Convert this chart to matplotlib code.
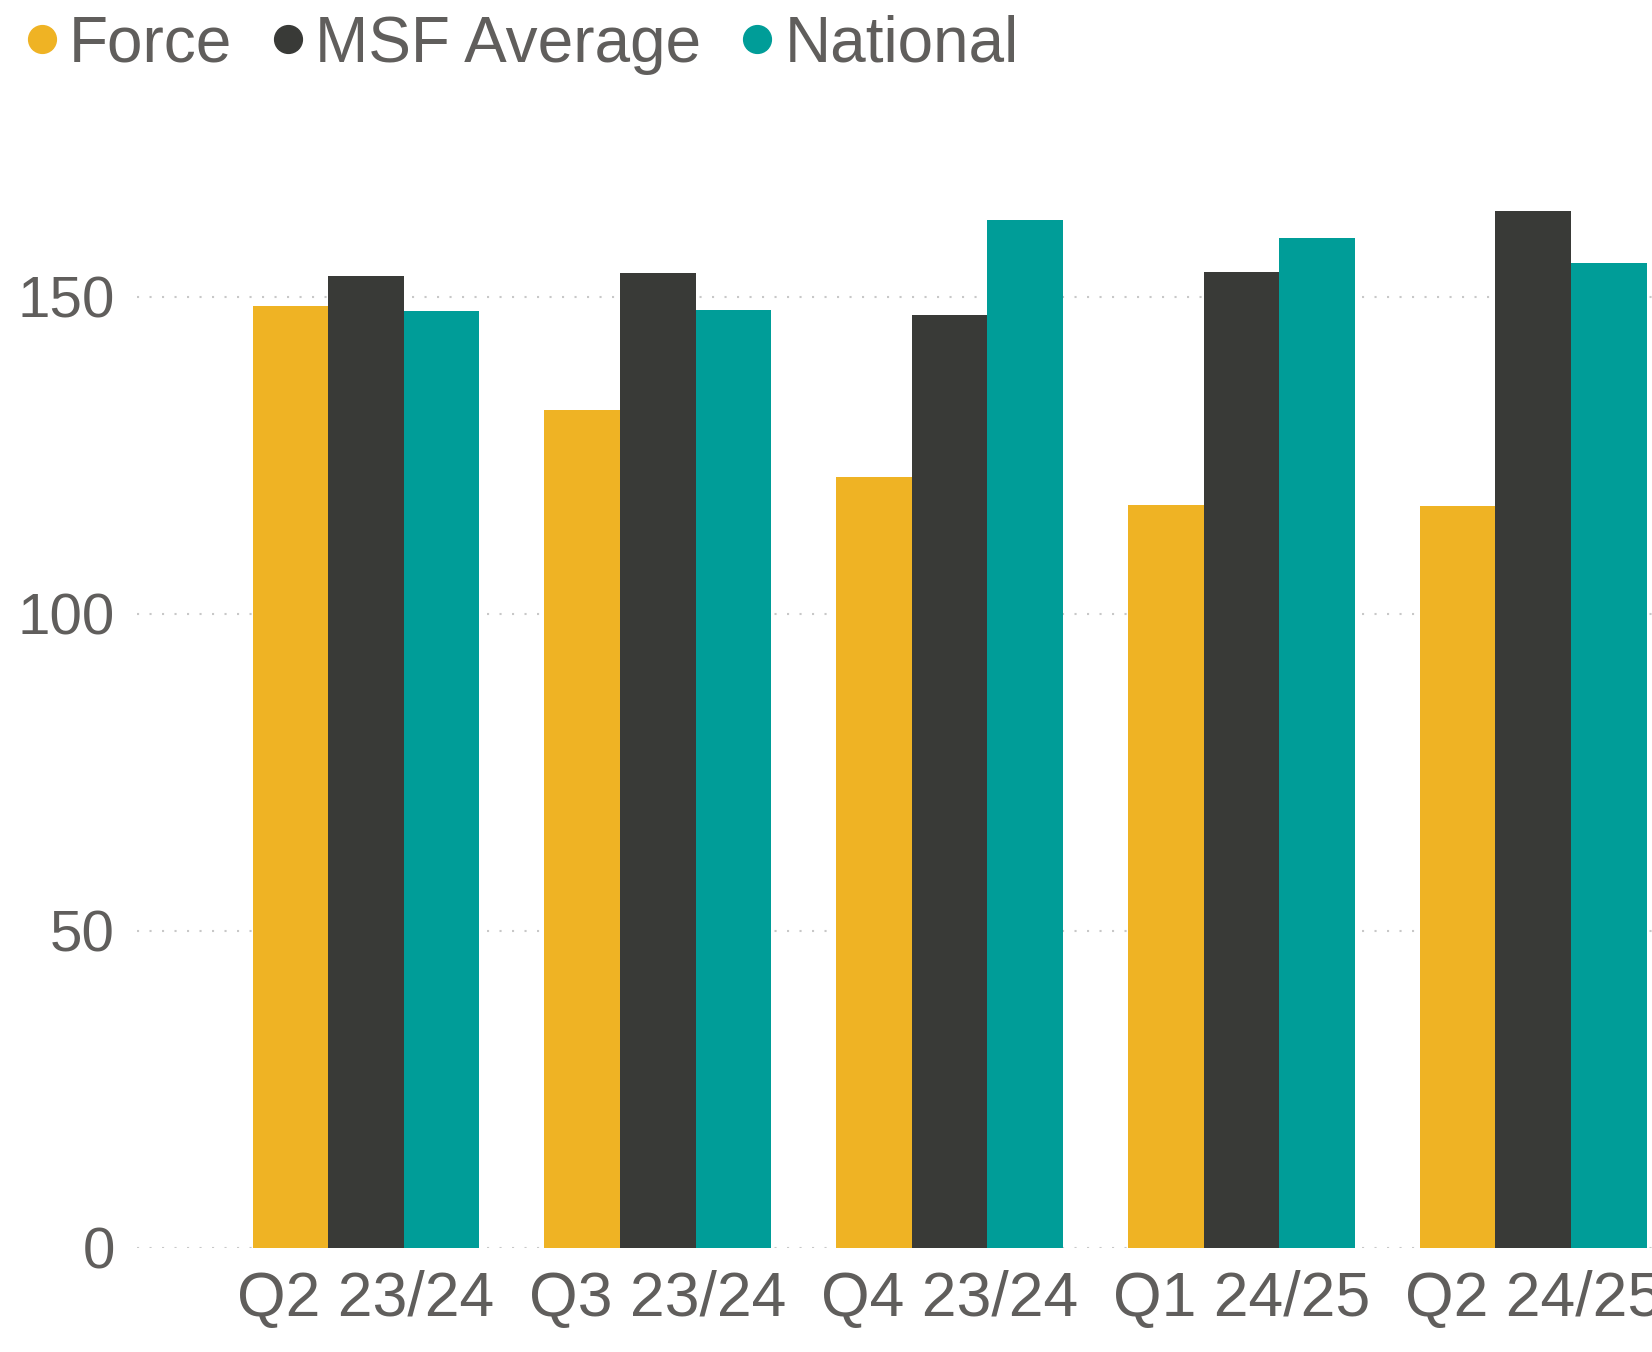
import matplotlib.pyplot as plt
import numpy as np
from matplotlib.lines import Line2D

# Data
quarters = ['Q2 23/24', 'Q3 23/24', 'Q4 23/24', 'Q1 24/25', 'Q2 24/25']
force = [148.5, 132.2, 121.6, 117.1, 117.0]
msf_average = [153.3, 153.7, 147.1, 153.9, 163.5]
national = [147.7, 147.9, 162.1, 159.3, 155.3]
series_names = ['Force', 'MSF Average', 'National']
colors = ['#EFB324', '#393A37', '#009D98']
yticks = [0, 50, 100, 150]

text_color = '#605E5C'
plt.rcParams['font.family'] = ['Liberation Sans', 'DejaVu Sans']

fig = plt.figure(figsize=(16.52, 13.52), dpi=100)
ax = fig.add_axes([137 / 1652, 0.0771, 1 - 137 / 1652, 0.8817 - 0.0771])

x = np.arange(len(quarters))
w = 0.259
for i, (vals, c) in enumerate(zip([force, msf_average, national], colors)):
    ax.bar(x + (i - 1) * w, vals, width=w, color=c, zorder=2)

ax.set_xlim(-0.785, 4.407)
ax.set_ylim(0, 171.6)
ax.set_yticks(yticks)
ax.set_xticks(x)
ax.set_xticklabels(quarters)
ax.grid(axis='y', color='#C8C8C8', linestyle=(0, (1, 5)), linewidth=1.5, zorder=0)
ax.tick_params(axis='y', length=0, pad=16, labelsize=42, labelcolor=text_color)
ax.tick_params(axis='x', length=0, pad=16, labelsize=45, labelcolor=text_color)
for s in ax.spines.values():
    s.set_visible(False)

handles = [Line2D([], [], marker='o', linestyle='', markersize=20,
                  markerfacecolor=c, markeredgecolor=c) for c in colors]
leg = fig.legend(handles, series_names, loc='upper left', bbox_to_anchor=(0.0, 1.008),
                 ncol=3, frameon=False, fontsize=46, handlelength=0.5,
                 handletextpad=0.18, columnspacing=0.62, borderaxespad=0)
for t in leg.get_texts():
    t.set_color(text_color)

fig.savefig('out.png', dpi=100)
